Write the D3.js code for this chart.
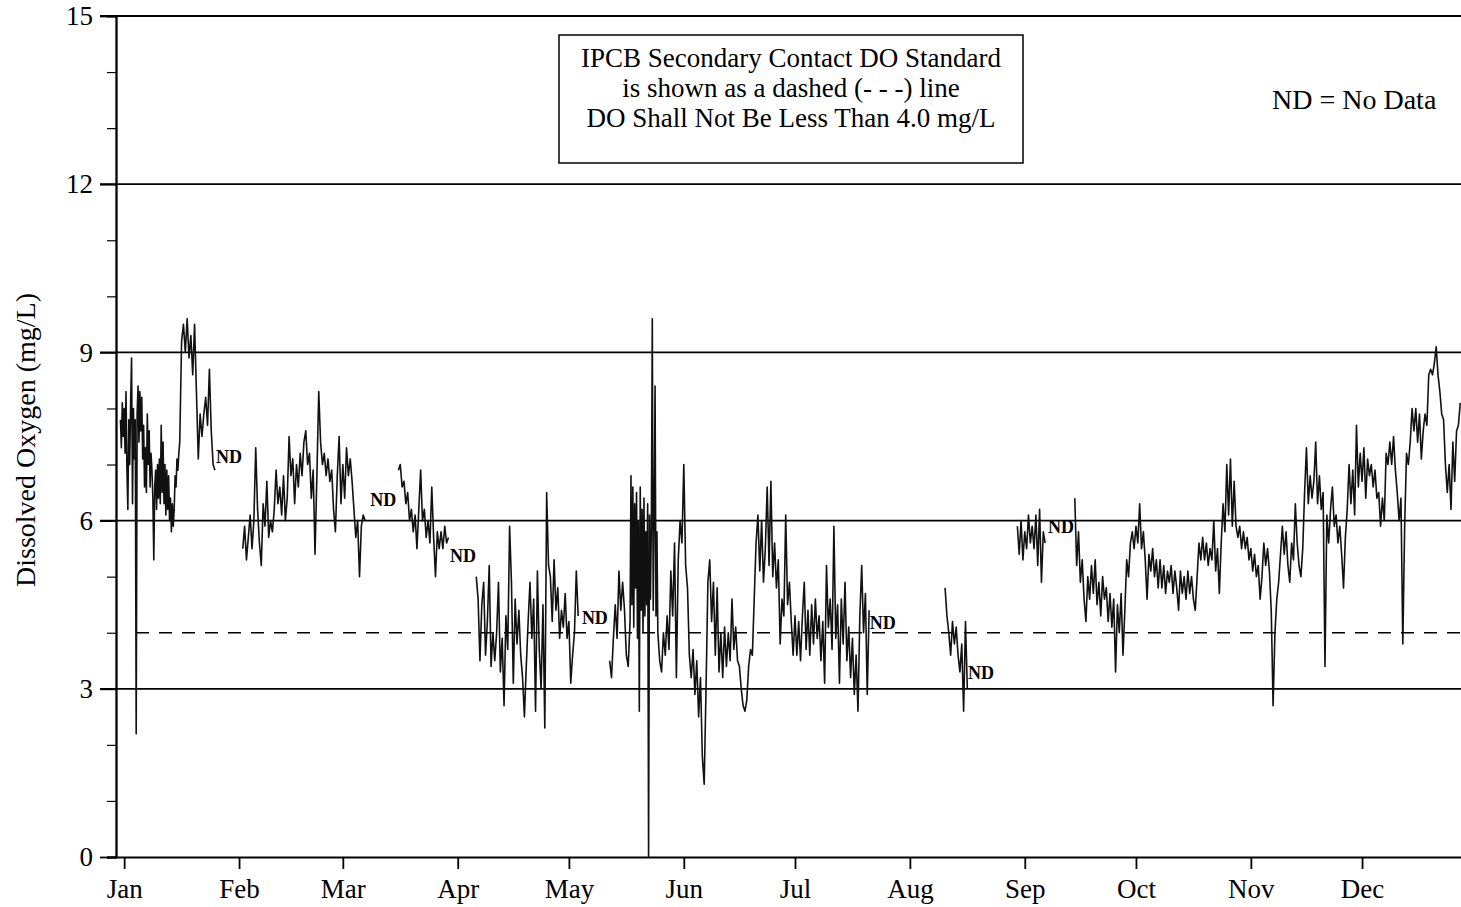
<!DOCTYPE html>
<html>
<head>
<meta charset="utf-8">
<title>Dissolved Oxygen</title>
<script src="https://d3js.org/d3.v7.min.js"></script>
<style>
body {
	margin: 0;
	background-color: white;
}
svg {
	display: block;
	font-family: "Liberation Serif", "Times New Roman", serif;
}
.grid {
	stroke: black;
	stroke-width: 1.8;
}
.axis path, .axis line {
	stroke: black;
	stroke-width: 1.8;
}
.axis text {
	font-size: 27px;
	fill: black;
}
.minor line {
	stroke-width: 1.2;
}
.standard {
	stroke: black;
	stroke-width: 1.6;
	stroke-dasharray: 13 10;
}
.trace {
	fill: none;
	stroke: #111;
	stroke-width: 1.6;
	stroke-linejoin: round;
}
.nd {
	font-size: 18px;
	font-weight: bold;
}
.note {
	font-size: 28px;
}
.box {
	font-size: 27px;
}
</style>
<script>
/* globals d3, document, window */
(function() {
"use strict";

const monthNames = ["Jan", "Feb", "Mar", "Apr", "May", "Jun", "Jul", "Aug", "Sep", "Oct", "Nov", "Dec"];
const monthStarts = [0, 31, 59, 90, 120, 151, 181, 212, 243, 273, 304, 334];
const yTicks = [0, 3, 6, 9, 12, 15];
const doStandard = 4.0;

// readings in mg/L; each run is [first day of year, days between readings, values]
const janEarlyValues = [
	7.8, 7.3, 8.1, 7.5, 8.0, 7.2, 8.3, 6.9, 6.2, 7.8,
	7.0, 8.1, 8.9, 6.3, 8.0, 7.1, 7.8, 2.2, 7.9, 8.4,
	7.4, 8.3, 7.6, 8.2, 7.1, 7.7, 6.6, 7.3, 6.5, 7.9,
	7.0, 7.6, 6.6, 7.2, 6.9, 6.4, 5.3, 6.6, 6.9, 6.2,
	7.0, 6.4, 7.1, 6.3, 7.7, 6.5, 7.4, 6.3, 7.0, 6.1,
	6.9, 6.2, 6.8, 6.0, 6.4, 5.8, 6.3, 5.9, 6.2, 6.8,
	6.6, 7.1, 6.9, 7.2, 7.4
];
const janLateValues = [
	9.2, 9.5, 9.0, 9.6, 8.9, 9.3, 8.6, 9.5, 8.3, 7.1,
	7.9, 7.5, 7.9, 8.2, 7.7, 8.7, 7.6, 7.0, 6.9
];
const febMarValues = [
	5.5, 5.9, 5.3, 5.7, 6.1, 5.5, 6.0, 7.3, 6.2, 5.6,
	5.2, 6.3, 5.9, 6.7, 5.7, 6.0, 5.8, 6.2, 6.9, 6.3,
	6.6, 6.1, 6.8, 6.0, 6.4, 7.5, 6.8, 7.1, 6.3, 7.0,
	6.6, 7.2, 6.8, 7.4, 7.6, 7.0, 7.2, 6.4, 6.9, 5.4,
	6.8, 8.3, 7.4, 7.0, 7.2, 6.8, 7.1, 6.7, 6.9, 6.2,
	5.8, 6.8, 7.5, 6.3, 7.0, 6.4, 7.3, 6.8, 7.1, 6.7,
	6.2, 5.7, 6.0, 5.0, 5.9, 6.1, 6.0
];
const marAprValues = [
	6.9, 7.0, 6.6, 6.7, 6.3, 6.5, 6.0, 6.2, 5.8, 6.1,
	5.5, 6.2, 6.9, 6.0, 6.2, 5.7, 6.0, 5.6, 6.6, 5.7,
	5.0, 5.8, 5.5, 5.8, 5.5, 5.9, 5.6, 5.7
];
const aprMayValues = [
	5.0, 4.6, 3.5, 4.5, 4.9, 3.6, 4.2, 5.2, 3.4, 4.0,
	3.5, 4.0, 4.9, 3.3, 3.9, 2.7, 4.3, 3.7, 5.9, 4.9,
	3.1, 4.6, 3.8, 4.4, 3.6, 3.2, 2.5, 3.4, 4.2, 4.9,
	3.9, 4.6, 2.6, 5.1, 3.7, 3.0, 4.5, 2.3, 6.5, 5.2,
	5.0, 4.2, 5.3, 4.4, 4.8, 3.9, 4.4, 4.1, 4.7, 3.9,
	4.2, 3.1, 3.6, 4.0, 5.1, 4.3
];
const mayLateValues = [3.5, 3.2, 3.9, 4.5, 3.9, 5.1, 4.4, 4.9, 4.4, 3.6, 3.4];
const junClusterValues = [
	4.2, 6.8, 4.5, 6.6, 4.1, 6.3, 4.8, 6.5, 3.9, 6.0,
	2.6, 6.6, 4.4, 6.2, 4.0, 6.4, 4.3, 5.8, 4.5, 6.3,
	0.0, 6.1, 4.6, 5.9, 9.6, 4.4, 6.0, 8.4, 4.3, 5.8,
	4.0
];
const junJulValues = [
	3.5, 3.3, 4.0,
	3.6, 4.3, 3.7, 5.1, 4.3, 5.6, 3.2, 5.3, 6.0, 5.6,
	7.0, 5.2, 4.8, 3.6, 3.2, 3.7, 2.9, 3.5, 2.5, 3.2,
	1.8, 1.3, 3.0, 4.9, 5.3, 4.2, 4.9, 3.6, 4.8, 3.3,
	4.0, 3.2, 4.1, 3.4, 4.0, 3.5, 4.6, 3.7, 4.1, 3.5,
	3.4, 3.0, 2.7, 2.6, 2.8, 3.4, 3.7, 3.6, 4.6, 5.6,
	6.1, 5.1, 6.0, 4.9, 5.5, 6.6, 5.2, 6.7, 5.0, 5.6,
	4.8, 5.3, 3.8, 4.6, 4.3, 6.1, 4.5, 4.9, 4.2, 3.6,
	4.3, 3.6, 4.2, 3.5, 4.3, 4.9, 3.7, 4.4, 3.6, 4.5,
	3.8, 4.6, 3.9, 4.3, 3.5, 4.2, 3.1, 5.2, 4.1, 4.6,
	3.7, 5.9, 3.9, 4.5, 3.1, 4.6, 3.8, 4.9, 3.5, 4.1,
	3.2, 3.9, 2.9, 3.6, 2.6, 4.3, 5.2, 4.0, 4.7, 2.9,
	4.4
];
const augValues = [4.8, 4.3, 4.0, 3.6, 4.2, 3.8, 4.1, 3.6, 3.3, 3.8, 2.6, 4.2, 3.0];
const sepValues = [5.9, 5.4, 6.0, 5.3, 5.8, 5.5, 6.1, 5.6, 5.9, 5.5, 6.1, 5.2, 6.2, 4.9, 5.8, 5.6];
const sepOctValues = [
	6.4, 5.2, 5.8, 4.9, 5.3, 4.6, 4.2, 5.0, 4.6, 5.2,
	4.7, 5.3, 4.5, 4.9, 4.3, 5.0, 4.6, 4.8, 4.2, 4.7,
	4.1, 4.6, 3.3, 4.5, 4.0, 4.7, 3.6, 4.4, 5.3, 5.0,
	5.6, 5.8, 5.5
];
const octDecValues = [
	5.9, 5.6, 6.3, 5.5, 5.8, 5.3, 4.6, 5.4, 5.1, 5.5,
	5.0, 5.3, 4.8, 5.3, 4.8, 5.2, 4.7, 5.1, 4.9, 5.2,
	4.7, 5.1, 4.8, 4.4, 5.1, 4.7, 5.0, 4.6, 5.1, 4.7,
	5.0, 4.6, 4.4, 5.0, 5.6, 5.3, 5.7, 5.3, 5.6, 5.2,
	5.5, 5.3, 6.0, 5.1, 5.5, 4.7, 5.6, 6.3, 5.8, 7.0,
	6.1, 7.1, 5.9, 6.7, 5.9, 5.7, 5.9, 5.5, 5.8, 5.5,
	5.7, 5.3, 5.5, 5.1, 5.4, 5.0, 5.2, 4.6, 5.0, 5.6,
	5.2, 5.5, 5.1, 4.4, 2.7, 4.0, 4.6, 4.9, 5.4, 5.9,
	5.4, 5.8, 5.2, 4.9, 5.6, 5.3, 6.3, 5.6, 5.2, 5.0,
	5.5, 6.5, 7.3, 6.3, 6.8, 6.4, 6.7, 7.4, 6.3, 6.8,
	6.2, 6.5, 3.4, 6.1, 5.6, 6.2, 6.6, 5.9, 6.1, 5.6,
	5.9, 5.4, 4.8, 5.7, 6.2, 7.0, 6.3, 6.9, 6.1, 7.7,
	6.6, 7.2, 6.7, 7.3, 6.4, 7.1, 6.8, 7.0, 6.6, 6.9,
	6.4, 6.5, 5.9, 6.4, 6.0, 7.2, 7.0, 7.4, 7.0, 7.5,
	6.9, 6.5, 6.0, 6.4, 3.8, 5.9, 7.2, 7.0, 7.4, 8.0,
	7.6, 8.0, 7.4, 7.9, 7.1, 7.6, 7.9, 7.7, 8.6, 8.7,
	8.6, 8.8, 9.1, 8.6, 8.3, 7.9, 7.8, 7.0, 6.5, 7.0,
	6.2, 7.4, 6.7, 7.6, 7.7, 8.1
];
// each segment is one unbroken stretch of record, between "ND" gaps
const segments = [
	[[-1, 0.25, janEarlyValues], [15.5, 0.5, janLateValues]],
	[[32, 0.5, febMarValues]],
	[[74, 0.5, marAprValues]],
	[[95, 0.5, aprMayValues]],
	[[131, 0.5, mayLateValues], [136.5, 0.25, junClusterValues], [144.5, 0.5, junJulValues]],
	[[221.5, 0.5, augValues]],
	[[241, 0.5, sepValues]],
	[[256.5, 0.5, sepOctValues], [273, 0.5, octDecValues]]
];
// "ND" notes: [day, mg/L] of the label's lower left corner
const ndLabels = [[24.8, 7.03], [66.4, 6.26], [87.9, 5.26], [123.5, 4.16], [201.2, 4.07], [227.7, 3.17], [249.3, 5.78]];
const noteLines = [
	"IPCB Secondary Contact DO Standard",
	"is shown as a dashed (- - -) line",
	"DO Shall Not Be Less Than 4.0 mg/L"
];

function main()
{
	const width = 1461, height = 907;
	const margin = {top: 16, left: 116, right: 0, bottom: 50};
	const w = width - margin.left - margin.right;
	const h = height - margin.top - margin.bottom;

	const x = d3.scaleLinear([-2.2, 360.7], [0, w]);
	const y = d3.scaleLinear([0, 15], [h, 0]);

	const svg = d3.select("#chart")
		.append("svg")
			.attr("width", width)
			.attr("height", height);

	svg.append("defs").append("clipPath")
			.attr("id", "plotclip")
		.append("rect")
			.attr("width", w)
			.attr("height", h + 2)
			.attr("y", -1);

	const g = svg.append("g")
		.attr("transform", "translate(" + margin.left + "," + margin.top + ")");

	g.selectAll(".grid")
		.data(yTicks.filter(v => v > 0))
		.join("line")
			.attr("class", "grid")
			.attr("x1", -16)
			.attr("x2", w)
			.attr("y1", y)
			.attr("y2", y);

	g.append("g")
		.attr("class", "axis minor")
		.call(d3.axisLeft(y).tickValues(d3.range(16).filter(v => v % 3)).tickSize(9).tickFormat(""));

	const gy = g.append("g")
		.attr("class", "axis")
		.call(d3.axisLeft(y).tickValues(yTicks).tickSize(16).tickPadding(7).tickSizeOuter(0));
	gy.attr("font-size", null).attr("font-family", null);

	const gx = g.append("g")
		.attr("class", "axis")
		.attr("transform", "translate(0," + h + ")")
		.call(d3.axisBottom(x).tickValues(monthStarts)
			.tickFormat((d, i) => monthNames[i]).tickSize(12).tickSizeOuter(0));
	gx.attr("font-size", null).attr("font-family", null);
	gx.selectAll("text").attr("y", 41).attr("dy", null);
	gx.select(".domain").attr("d", "M-9,0.5H" + w);

	g.append("line")
		.attr("class", "standard")
		.attr("x1", 20)
		.attr("x2", w)
		.attr("y1", y(doStandard))
		.attr("y2", y(doStandard));

	const line = d3.line()
		.x(d => x(d.day))
		.y(d => y(d.value));

	const toPoints = runs => runs.flatMap(([start, step, values]) =>
		values.map((v, i) => ({day: start + i * step, value: v})));

	g.append("g")
		.attr("clip-path", "url(#plotclip)")
		.selectAll(".trace")
		.data(segments.map(toPoints))
		.join("path")
			.attr("class", "trace")
			.attr("d", line);

	g.selectAll(".nd")
		.data(ndLabels)
		.join("text")
			.attr("class", "nd")
			.attr("x", ([d]) => x(d))
			.attr("y", ([, v]) => y(v))
			.text("ND");

	svg.append("text")
		.attr("class", "note")
		.attr("transform", "translate(35,440) rotate(-90)")
		.attr("text-anchor", "middle")
		.text("Dissolved Oxygen (mg/L)");

	const box = svg.append("g").attr("transform", "translate(559,35)");
	box.append("rect")
		.attr("width", 464)
		.attr("height", 128)
		.attr("fill", "white")
		.attr("stroke", "black")
		.attr("stroke-width", 1.5);
	box.selectAll("text")
		.data(noteLines)
		.join("text")
			.attr("class", "box")
			.attr("x", 232)
			.attr("y", (d, i) => 32 + i * 30)
			.attr("text-anchor", "middle")
			.text(d => d);

	svg.append("text")
		.attr("class", "note")
		.attr("x", 1272)
		.attr("y", 109)
		.text("ND = No Data");
}
window.addEventListener("DOMContentLoaded", main);
})();
</script>
</head>
<body>
<div id="chart"></div>
</body>
</html>
